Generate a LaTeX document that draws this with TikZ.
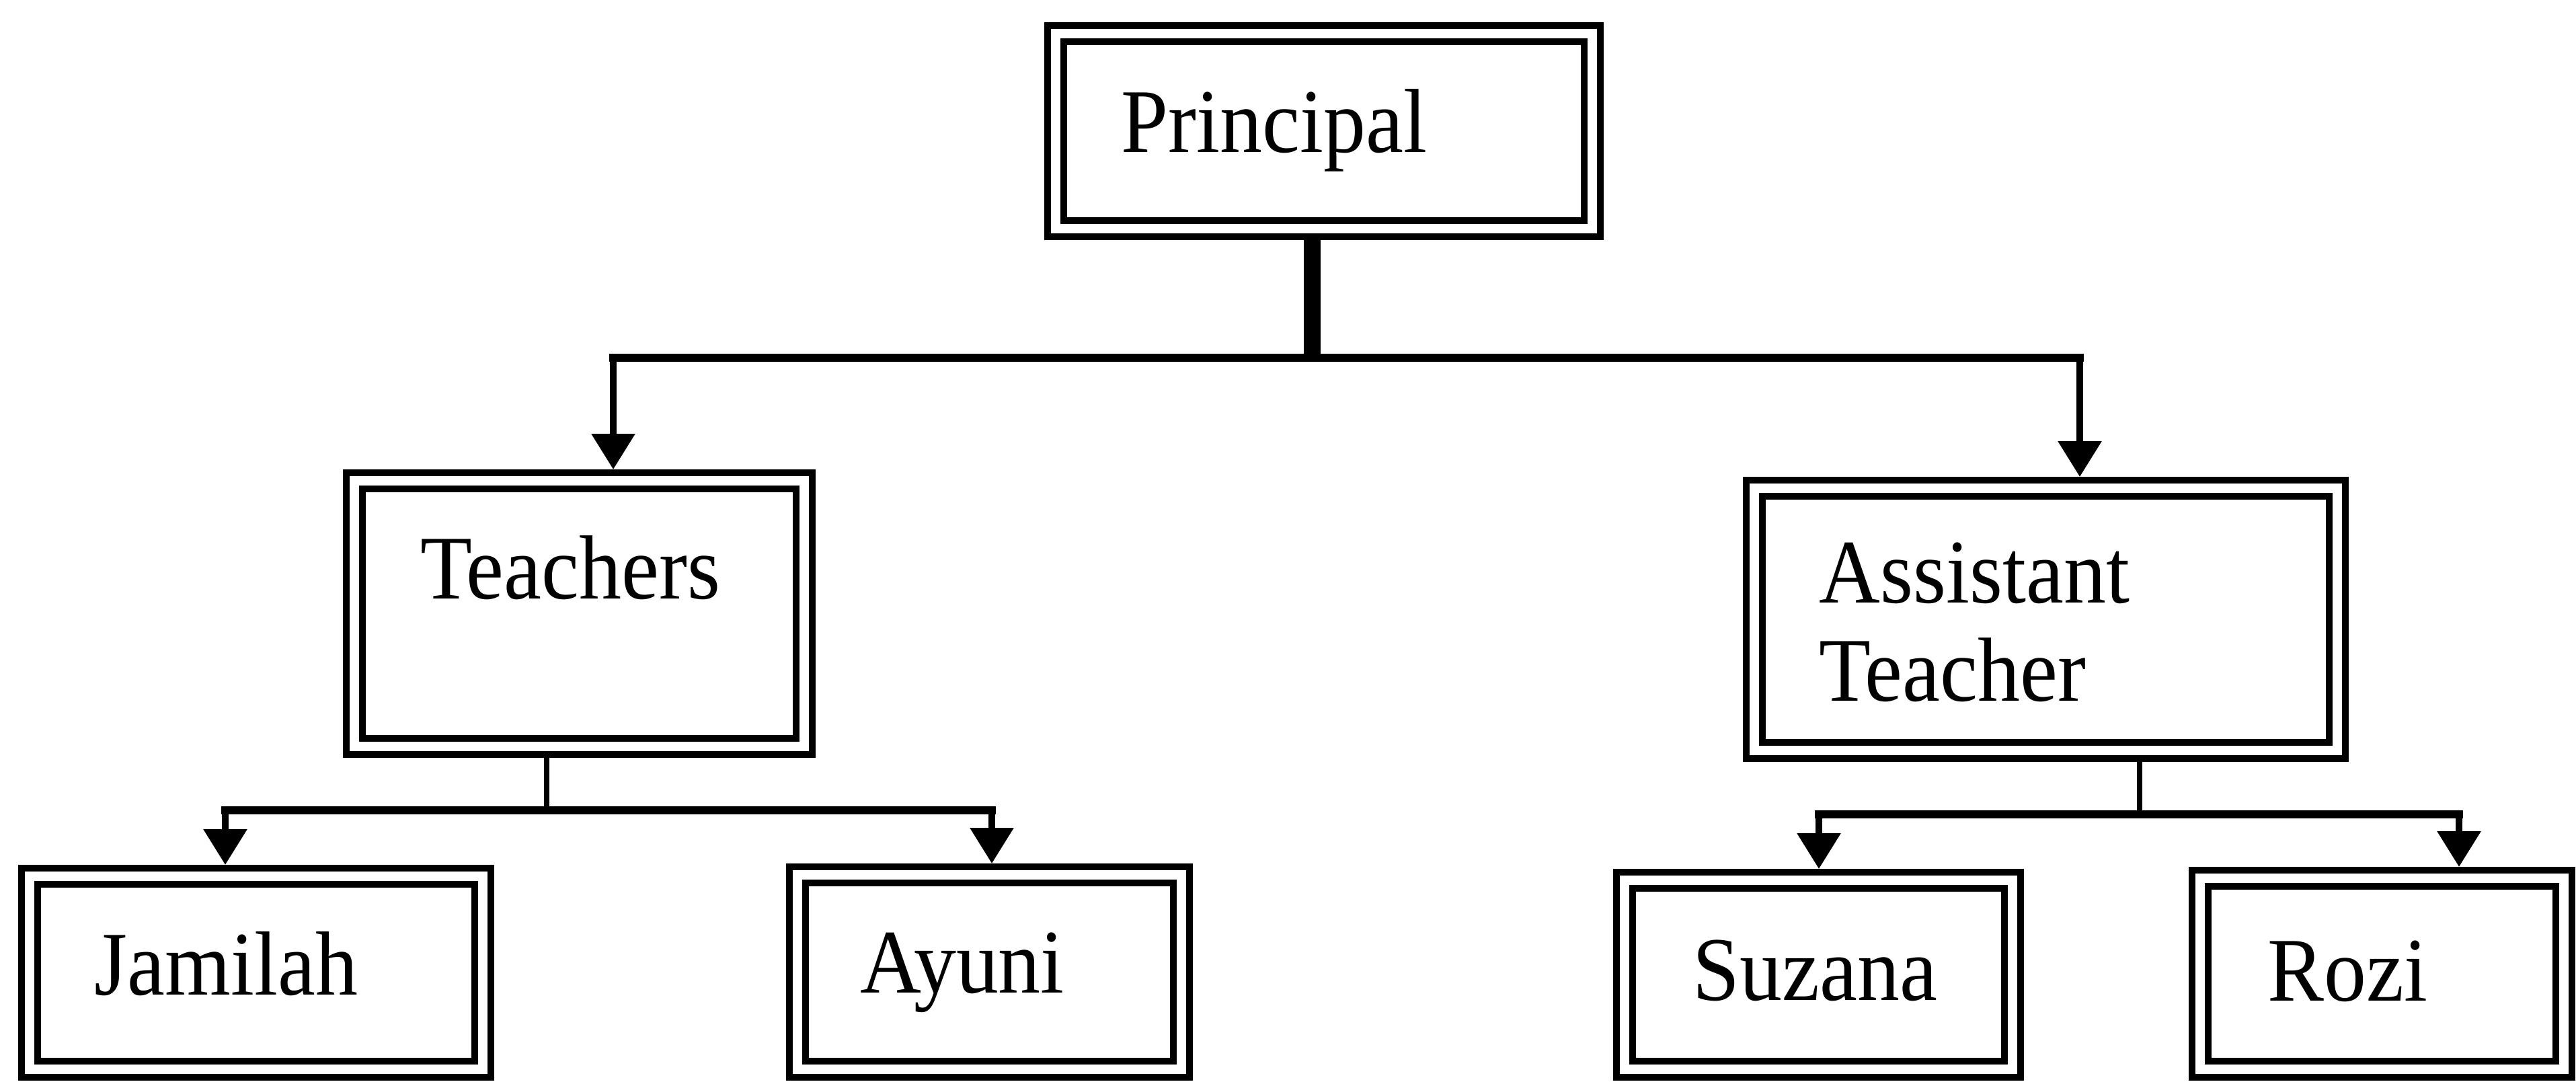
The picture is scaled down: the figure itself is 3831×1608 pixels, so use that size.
\documentclass[tikz,border=0pt]{standalone}
\usepackage{fontspec}
\setmainfont[FakeStretch=0.93]{Liberation Serif}
\usetikzlibrary{arrows.meta}
\begin{document}
\begin{tikzpicture}[x=0.1mm,y=-0.1mm,
  box/.style={draw=black, line width=1.0mm, double=white, double distance=1.4mm,
              rectangle, inner sep=0pt, outer sep=1.7mm},
  lbl/.style={anchor=base west, inner sep=0pt, font=\fontsize{38.5}{41.5}\selectfont},
  mainbar/.style={line width=1.25mm, line cap=rect},
  subbar/.style={line width=1.15mm, line cap=rect},
  drop/.style={line width=0.95mm, -{Triangle[width=6.3mm,length=5.3mm]}},
  thinstem/.style={line width=0.75mm},
  thickstem/.style={line width=2.5mm}]
\useasboundingbox (0,0) rectangle (3831,1608);
\fill[white] (0,0) rectangle (3831,1608);

% boxes
\node[box, minimum width=79.8mm, minimum height=29.0mm] (principal) at (1969,195) {};
\node[box, minimum width=66.9mm, minimum height=39.5mm] (teachers) at (861.5,912.5) {};
\node[box, minimum width=86.7mm, minimum height=39.0mm] (assistant) at (3042.5,921) {};
\node[box, minimum width=67.4mm, minimum height=28.7mm] (jamilah) at (381,1446.5) {};
\node[box, minimum width=57.1mm, minimum height=28.9mm] (ayuni) at (1471.5,1445.5) {};
\node[box, minimum width=57.7mm, minimum height=28.1mm] (suzana) at (2704.5,1449.5) {};
\node[box, minimum width=54.1mm, minimum height=28.4mm] (rozi) at (3542.5,1448) {};

% texts
\node[lbl] (principal-t) at (1667,226) {Principal};
\node[lbl] (teachers-t) at (625,890) {Teachers};
\node[lbl] (assistant-t1) at (2705,896) {Assistant};
\node[lbl] (assistant-t2) at (2705,1042) {Teacher};
\node[lbl] (jamilah-t) at (140,1479) {Jamilah};
\node[lbl] (ayuni-t) at (1279,1476) {Ayuni};
\node[lbl] (suzana-t) at (2517,1487) {Suzana};
\node[lbl] (rozi-t) at (3372,1488) {Rozi};

% junction points
\coordinate (pj) at (1951,532);
\coordinate (ta) at (912,532);
\coordinate (aa) at (3093,532);
\coordinate (tj) at (813,1205);
\coordinate (jt) at (335,1205);
\coordinate (ay) at (1475,1205);
\coordinate (aj) at (3182,1211);
\coordinate (sz) at (2705,1211);
\coordinate (rz) at (3657,1211);

% principal level
\draw[thickstem] (principal.south -| pj) -- (pj);
\draw[mainbar] (ta) -- (aa);
\draw[drop] (ta) -- (teachers.north -| ta);
\draw[drop] (aa) -- (assistant.north -| aa);

% teachers level
\draw[thinstem] (teachers.south -| tj) -- (tj);
\draw[subbar] (jt) -- (ay);
\draw[drop] (jt) -- (jamilah.north -| jt);
\draw[drop] (ay) -- (ayuni.north -| ay);

% assistant level
\draw[thinstem] (assistant.south -| aj) -- (aj);
\draw[subbar] (sz) -- (rz);
\draw[drop] (sz) -- (suzana.north -| sz);
\draw[drop] (rz) -- (rozi.north -| rz);
\end{tikzpicture}
\end{document}
